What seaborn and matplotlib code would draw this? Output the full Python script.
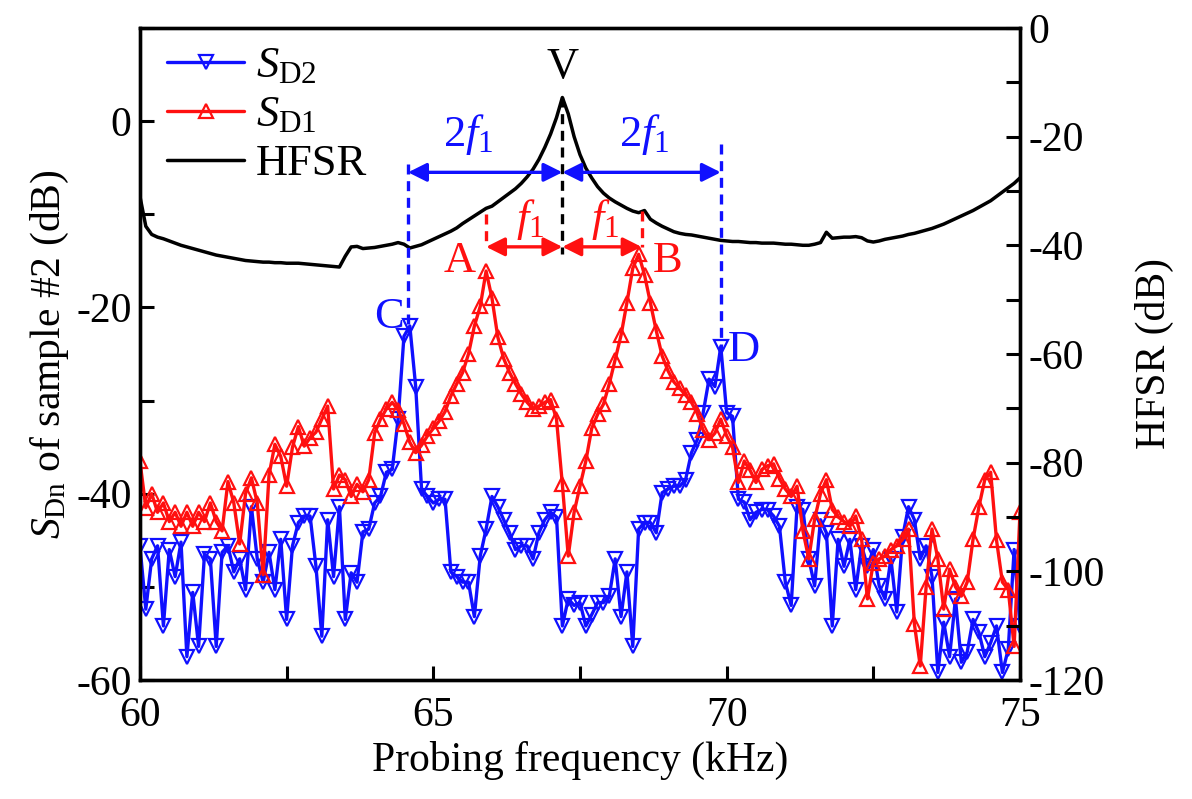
import numpy as np
import pandas as pd
import matplotlib
matplotlib.use("Agg")
import matplotlib.pyplot as plt
from matplotlib.lines import Line2D
from matplotlib.ticker import MultipleLocator
import seaborn as sns

# ---------------- data ----------------
freq = np.round(np.linspace(60.0, 75.0, 151), 1)

sd1 = [-36.5, -41.5, -40.0, -42.0, -41.0, -43.0, -42.0, -43.5, -42.0, -43.5,
       -42.0, -43.0, -41.0, -43.0, -44.0, -38.7, -41.0, -45.4, -40.0, -38.3,
       -41.0, -48.7, -38.0, -34.7, -36.0, -39.2, -35.0, -32.8, -34.9, -34.0,
       -33.4, -32.0, -30.6, -39.5, -38.0, -38.5, -40.3, -39.0, -39.8, -38.5,
       -33.5, -32.0, -30.9, -30.2, -31.0, -32.5, -34.5, -35.6, -34.8, -33.8,
       -33.0, -32.2, -31.2, -29.5, -28.2, -27.0, -25.0, -22.0, -19.9, -16.1,
       -19.0, -23.2, -25.5, -27.0, -28.2, -29.3, -30.2, -30.9, -30.6, -30.2,
       -29.9, -32.0, -39.0, -46.7, -42.0, -39.2, -36.5, -33.0, -31.5, -30.4,
       -28.2, -25.6, -23.0, -19.5, -15.8, -14.3, -16.5, -19.5, -22.5, -25.2,
       -26.8, -28.0, -28.7, -29.4, -30.2, -31.4, -33.2, -34.2, -33.5, -32.0,
       -33.8, -35.0, -38.8, -36.5, -37.5, -38.8, -37.4, -37.0, -36.8, -38.4,
       -39.5, -40.3, -39.2, -44.0, -47.0, -42.7, -40.0, -38.5, -41.7, -42.5,
       -43.0, -43.5, -42.4, -44.9, -51.3, -47.4, -47.0, -46.7, -46.0, -45.6,
       -44.9, -43.8, -54.0, -58.5, -50.0, -43.8, -47.0, -52.4, -48.1, -50.0,
       -51.0, -49.5, -44.9, -41.4, -38.5, -37.7, -45.0, -49.5, -50.3, -56.4,
       -42.0]

sd2 = [-45.6, -52.4, -47.0, -45.6, -54.2, -46.0, -48.9, -45.2, -57.5, -50.6,
       -56.4, -46.5, -47.0, -56.4, -46.3, -45.6, -48.4, -47.0, -50.3, -41.4,
       -47.0, -49.5, -46.3, -50.3, -44.9, -53.5, -45.6, -43.1, -42.4, -42.4,
       -47.8, -55.3, -42.8, -48.9, -41.4, -53.5, -48.5, -49.5, -44.1, -43.8,
       -41.0, -40.3, -37.7, -37.4, -32.0, -23.1, -22.0, -28.5, -39.5, -40.3,
       -41.0, -40.6, -40.6, -48.4, -48.9, -49.5, -49.5, -53.2, -46.7, -43.8,
       -40.3, -41.4, -42.8, -44.2, -46.0, -45.6, -45.6, -47.0, -44.2, -42.8,
       -42.0, -42.5, -54.2, -51.3, -52.0, -51.7, -54.2, -53.0, -51.7, -51.7,
       -51.0, -47.0, -53.2, -48.4, -56.4, -43.8, -43.1, -43.1, -44.2, -39.9,
       -39.5, -39.2, -39.2, -38.5, -35.6, -34.2, -31.3, -27.7, -28.5, -24.2,
       -31.3, -31.7, -40.6, -40.9, -42.8, -42.0, -41.7, -41.7, -42.4, -43.5,
       -49.5, -52.0, -41.4, -41.7, -47.0, -49.9, -42.8, -44.2, -54.2, -44.9,
       -47.8, -44.9, -50.3, -45.6, -47.8, -46.0, -49.9, -51.3, -47.0, -52.7,
       -44.6, -41.4, -42.8, -47.0, -45.6, -48.9, -59.2, -53.8, -57.5, -51.3,
       -58.1, -57.0, -53.5, -54.9, -57.5, -56.0, -54.2, -59.2, -56.7, -46.0,
       -54.2]

hfsr = [-31.0, -36.5, -38.0, -38.5, -38.8, -39.2, -39.6, -40.0, -40.3, -40.6,
        -40.9, -41.2, -41.5, -41.8, -42.0, -42.2, -42.4, -42.6, -42.8, -42.9,
        -43.0, -43.1, -43.1, -43.2, -43.2, -43.3, -43.3, -43.3, -43.4, -43.5,
        -43.6, -43.7, -43.8, -43.9, -44.0, -42.0, -40.3, -40.2, -40.6, -40.5,
        -40.4, -40.2, -40.0, -39.8, -39.5, -39.8, -40.5, -40.2, -39.9, -39.4,
        -38.9, -38.4, -37.9, -37.4, -36.8, -36.0, -35.3, -34.6, -33.9, -33.2,
        -32.8, -32.0, -31.2, -30.4, -29.6, -28.6, -27.4, -26.0, -24.2, -22.0,
        -19.5, -16.5, -12.8, -15.8, -20.0, -23.3, -25.8, -27.6, -29.2, -30.4,
        -31.3, -32.0, -32.6, -33.2, -33.7, -34.0, -33.6, -35.2, -35.9, -36.5,
        -37.0, -37.5, -37.8, -38.0, -38.1, -38.3, -38.5, -38.7, -38.9, -39.1,
        -39.2, -39.3, -39.3, -39.4, -39.5, -39.5, -39.6, -39.6, -39.6, -39.7,
        -39.8, -39.8, -39.9, -40.0, -40.0, -39.8, -39.5, -37.6, -38.7, -38.6,
        -38.5, -38.5, -38.4, -38.6, -39.2, -39.4, -39.2, -38.9, -38.7, -38.5,
        -38.3, -38.0, -37.8, -37.5, -37.2, -36.9, -36.5, -36.1, -35.6, -35.1,
        -34.6, -34.1, -33.6, -33.0, -32.4, -31.8, -31.0, -30.2, -29.4, -28.6,
        -27.6]

df = pd.DataFrame({"freq": freq, "SD1": sd1, "SD2": sd2, "HFSR": hfsr})

# annotation anchors (kHz / dB, left axis)
f_C, f_A, f_V, f_B, f_D = 64.57, 65.9, 67.2, 68.55, 69.9

# ---------------- style ----------------
sns.set_theme(style="ticks")
plt.rcParams["font.family"] = ["Liberation Serif", "DejaVu Serif"]
plt.rcParams["mathtext.fontset"] = "custom"
plt.rcParams["mathtext.rm"] = "Liberation Serif"
plt.rcParams["mathtext.it"] = "Liberation Serif:italic"
plt.rcParams["mathtext.bf"] = "Liberation Serif:bold"
plt.rcParams["axes.unicode_minus"] = False
plt.rcParams["text.color"] = "black"
plt.rcParams["axes.labelcolor"] = "black"
plt.rcParams["xtick.color"] = "black"
plt.rcParams["ytick.color"] = "black"

FS = 30
fig = plt.figure(figsize=(11.92, 7.99), dpi=100)
ax = fig.add_axes([0.1174, 0.149, 0.7383, 0.816])
ax2 = ax.twinx()

blue, red = "#1010ff", "#ff1010"
mk = dict(markersize=10.5, markerfacecolor="none", markeredgewidth=1.6)
sns.lineplot(data=df, x="freq", y="SD2", ax=ax, color=blue, lw=2.4,
             marker="v", markeredgecolor=blue, **mk)
sns.lineplot(data=df, x="freq", y="SD1", ax=ax, color=red, lw=2.4,
             marker="^", markeredgecolor=red, **mk)
sns.lineplot(data=df, x="freq", y="HFSR", ax=ax2, color="black", lw=2.5)

ax.set_xlim(60, 75)
ax.set_ylim(-60, 10)
ax2.set_ylim(-120, 0)

ax.xaxis.set_major_locator(MultipleLocator(5))
ax.xaxis.set_minor_locator(MultipleLocator(2.5))
ax.yaxis.set_major_locator(MultipleLocator(20))
ax.yaxis.set_minor_locator(MultipleLocator(10))
ax2.yaxis.set_major_locator(MultipleLocator(20))
ax2.yaxis.set_minor_locator(MultipleLocator(10))
ax.set_yticks([-60, -40, -20, 0])

for a in (ax, ax2):
    a.tick_params(which="both", direction="in", length=10, width=2.2,
                  labelsize=FS, pad=6, colors="black")
    for s in a.spines.values():
        s.set_linewidth(2.4)
        s.set_color("black")
ax.tick_params(axis="x", pad=12)
ax.tick_params(axis="y", which="both", right=False)
ax.tick_params(axis="x", which="both", top=False)

ax.set_xlabel("Probing frequency (kHz)", fontsize=FS, labelpad=4)
ax.set_ylabel(r"$S_{\mathrm{Dn}}$ of sample #2 (dB)", fontsize=FS, labelpad=4)
ax2.set_ylabel("HFSR (dB)", fontsize=FS, labelpad=22)

# ---------------- annotations (drawn on top, in left-axis coordinates) ----------------
T = ax.transData
dash = dict(ls=(0, (3, 2)), lw=2.4, transform=T, clip_on=False)
ax2.plot([f_C, f_C], [-4.6, -22.0], color=blue, **dash)
ax2.plot([f_D, f_D], [-2.5, -24.5], color=blue, **dash)
ax2.plot([f_V, f_V], [2.6, -14.3], color="black", **dash)
ax2.plot([f_A, f_A], [-10.0, -13.5], color=red, **dash)
ax2.plot([f_B, f_B], [-9.7, -13.5], color=red, **dash)

arr_b = dict(arrowstyle="<|-|>", color=blue, lw=2.4, mutation_scale=28,
             shrinkA=0, shrinkB=0)
arr_r = dict(arrowstyle="<|-|>", color=red, lw=2.4, mutation_scale=28,
             shrinkA=0, shrinkB=0)
ax2.annotate("", xy=(f_C, -5.5), xytext=(f_V, -5.5), xycoords=T, textcoords=T, arrowprops=arr_b)
ax2.annotate("", xy=(f_V, -5.5), xytext=(f_D, -5.5), xycoords=T, textcoords=T, arrowprops=arr_b)
ax2.annotate("", xy=(f_A, -13.5), xytext=(f_V, -13.5), xycoords=T, textcoords=T, arrowprops=arr_r)
ax2.annotate("", xy=(f_V, -13.5), xytext=(f_B, -13.5), xycoords=T, textcoords=T, arrowprops=arr_r)

tx = dict(transform=T, fontsize=FS + 2, ha="center", va="center")
ax2.text(f_V, 5.8, "V", color="black", **tx)
ax2.text(65.6, -1.4, r"2$f_{\mathrm{1}}$", color=blue, **tx)
ax2.text(68.6, -1.4, r"2$f_{\mathrm{1}}$", color=blue, **tx)
ax2.text(66.65, -10.6, r"$f_{\mathrm{1}}$", color=red, **tx)
ax2.text(67.93, -10.6, r"$f_{\mathrm{1}}$", color=red, **tx)
ax2.text(65.45, -15.0, "A", color=red, **tx)
ax2.text(69.0, -15.0, "B", color=red, **tx)
ax2.text(64.25, -21.0, "C", color=blue, **tx)
ax2.text(70.3, -24.6, "D", color=blue, **tx)

# ---------------- legend ----------------
handles = [
    Line2D([], [], color=blue, lw=2.4, marker="v", markeredgecolor=blue, **mk),
    Line2D([], [], color=red, lw=2.4, marker="^", markeredgecolor=red, **mk),
    Line2D([], [], color="black", lw=2.5),
]
labels = [r"$S_{\mathrm{D2}}$", r"$S_{\mathrm{D1}}$", "HFSR"]
ax2.legend(handles, labels, loc="upper left", bbox_to_anchor=(-0.005, 1.02),
           frameon=False, fontsize=FS + 2, handlelength=1.75, handletextpad=0.25,
           labelspacing=0.2, borderaxespad=0.3)

fig.savefig("out.png", dpi=100)
